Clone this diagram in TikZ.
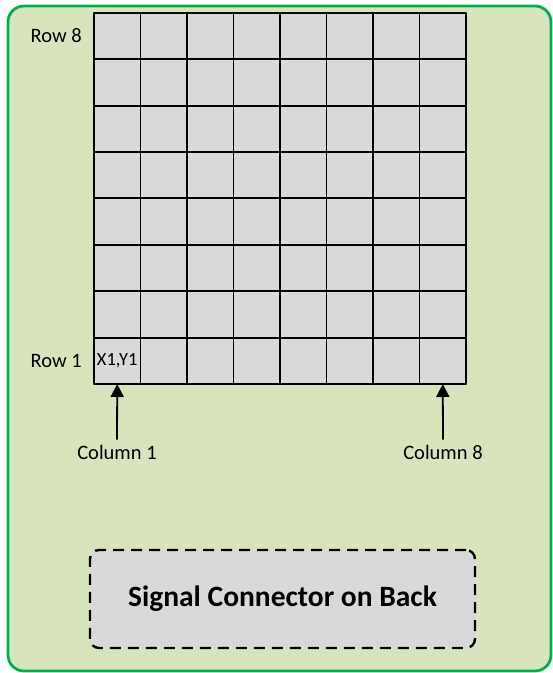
\documentclass[tikz,border=0pt]{standalone}
\usepackage{fontspec}
\setmainfont{Carlito}
\usetikzlibrary{arrows.meta}
\usetikzlibrary{positioning}
\definecolor{panelgreen}{HTML}{D8E4BC}
\definecolor{bordergreen}{HTML}{00B050}
\definecolor{cellgray}{HTML}{D9D9D9}
\tikzset{
  cellbox/.style={draw=black,fill=cellgray,line width=1.9pt,minimum width=46.5pt,minimum height=46.4pt,inner sep=0pt,outer sep=0pt},
  lbl/.style={font=\fontsize{20.5}{24}\selectfont,inner sep=0pt},
  colarrow/.style={line width=1.8pt,-{Triangle[length=13pt,width=13pt]}},
  connbox/.style={draw=black,fill=cellgray,line width=2.4pt,dash pattern=on 11pt off 7pt,rounded corners=9pt,minimum width=385pt,minimum height=98pt,font=\bfseries\fontsize{29.5}{33}\selectfont}
}
\begin{document}
\begin{tikzpicture}[line cap=butt,line join=round,x=1pt,y=-1pt]
\useasboundingbox (0,0) rectangle (553,673);
\draw [line width=2.8pt,draw=bordergreen,fill=panelgreen,rounded corners=16pt] (8,6) rectangle (551,671);
% 8x8 pixel grid, row 1 at the bottom
\foreach \i in {1,...,8}
  \foreach \j in {1,...,8}
    \node [cellbox] (c\i\j) at ({94+46.5*(\i-0.5)},{384-46.4*(\j-0.5)}) {};
\node [lbl,font=\fontsize{18.5}{20}\selectfont] at (c11) {X1,Y1};
\node [lbl,left=12pt of c18] (row8) {Row 8};
\node [lbl,left=12pt of c11] (row1) {Row 1};
\node [lbl] (col1) at (117,452) {Column 1};
\node [lbl] (col8) at (443,452) {Column 8};
\draw [colarrow] (col1.north) ++(0,-5) -- (c11.south);
\draw [colarrow] (col8.north) ++(0,-5) -- (c81.south);
\node [connbox] (conn) at (282.5,599) {Signal Connector on Back};
\end{tikzpicture}
\end{document}
